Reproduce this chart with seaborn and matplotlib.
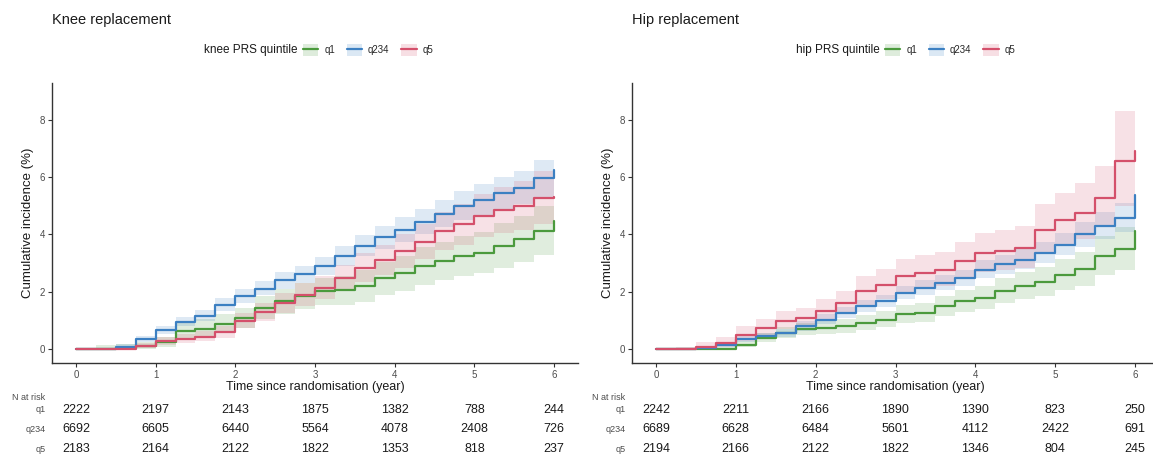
import matplotlib
matplotlib.use("Agg")
import matplotlib.pyplot as plt
import matplotlib.transforms as mtransforms
from matplotlib.lines import Line2D
from matplotlib.patches import Patch
import numpy as np
import pandas as pd
import seaborn as sns

years = [0, 0.25, 0.5, 0.75, 1, 1.25, 1.5, 1.75, 2, 2.25, 2.5, 2.75, 3,
         3.25, 3.5, 3.75, 4, 4.25, 4.5, 4.75, 5, 5.25, 5.5, 5.75, 6]

groups = ['q1', 'q234', 'q5']
colors = {'q1': '#4b9a3d', 'q234': '#3c80c2', 'q5': '#d4506b'}

# knee replacement: cumulative incidence (%) with 95% CI
knee_q1 = [0, 0, 0.05, 0.12, 0.25, 0.65, 0.72, 0.9, 1.1, 1.45, 1.68, 1.85, 2.03,
           2.06, 2.2, 2.5, 2.67, 2.9, 3.07, 3.25, 3.36, 3.6, 3.83, 4.12, 4.46]
knee_q1_lo = [0, 0, 0, 0.03, 0.1, 0.4, 0.45, 0.6, 0.75, 1.05, 1.25, 1.4, 1.55,
              1.55, 1.65, 1.9, 2.05, 2.25, 2.4, 2.55, 2.65, 2.85, 3.05, 3.3, 3.35]
knee_q1_hi = [0, 0.15, 0.2, 0.25, 0.45, 0.95, 1.05, 1.25, 1.45, 1.85, 2.1, 2.3, 2.5,
              2.55, 2.75, 3.05, 3.25, 3.55, 3.75, 3.95, 4.1, 4.4, 4.65, 5.0, 5.8]
knee_q234 = [0, 0.02, 0.1, 0.35, 0.68, 0.95, 1.18, 1.55, 1.85, 2.12, 2.4, 2.62, 2.9,
             3.25, 3.6, 3.9, 4.17, 4.45, 4.72, 5.0, 5.2, 5.45, 5.62, 5.95, 6.26]
knee_q234_lo = [0, 0, 0.05, 0.25, 0.55, 0.8, 1.0, 1.35, 1.62, 1.88, 2.12, 2.33, 2.6,
                2.92, 3.25, 3.5, 3.75, 4.0, 4.25, 4.5, 4.68, 4.9, 5.05, 5.3, 5.55]
knee_q234_hi = [0, 0.05, 0.18, 0.48, 0.82, 1.12, 1.38, 1.78, 2.1, 2.38, 2.7, 2.92, 3.22,
                3.6, 3.98, 4.3, 4.6, 4.9, 5.2, 5.5, 5.75, 6.0, 6.2, 6.6, 7.05]
knee_q5 = [0, 0, 0.02, 0.12, 0.28, 0.38, 0.45, 0.6, 1.0, 1.3, 1.62, 1.9, 2.14,
           2.5, 2.84, 3.1, 3.42, 3.75, 4.12, 4.35, 4.64, 4.85, 4.99, 5.28, 5.3]
knee_q5_lo = [0, 0, 0, 0.05, 0.15, 0.22, 0.28, 0.4, 0.75, 1.0, 1.28, 1.52, 1.75,
              2.05, 2.35, 2.6, 2.85, 3.15, 3.45, 3.65, 3.9, 4.05, 4.15, 4.35, 4.35]
knee_q5_hi = [0, 0, 0.08, 0.22, 0.42, 0.55, 0.65, 0.82, 1.28, 1.62, 1.98, 2.3, 2.55,
              2.95, 3.35, 3.65, 4.0, 4.38, 4.8, 5.05, 5.4, 5.65, 5.85, 6.2, 6.7]

# hip replacement
hip_q1 = [0, 0, 0, 0.02, 0.17, 0.4, 0.58, 0.7, 0.75, 0.81, 0.93, 1.04, 1.22,
          1.28, 1.51, 1.68, 1.8, 2.03, 2.2, 2.35, 2.6, 2.8, 3.25, 3.48, 4.12]
hip_q1_lo = [0, 0, 0, 0, 0.08, 0.25, 0.4, 0.5, 0.53, 0.58, 0.68, 0.77, 0.92,
             0.97, 1.17, 1.3, 1.4, 1.6, 1.74, 1.86, 2.06, 2.22, 2.58, 2.75, 2.75]
hip_q1_hi = [0, 0.05, 0.08, 0.1, 0.3, 0.58, 0.78, 0.92, 0.98, 1.06, 1.2, 1.33, 1.54,
             1.6, 1.87, 2.07, 2.22, 2.48, 2.68, 2.86, 3.15, 3.4, 3.95, 4.25, 5.0]
hip_q234 = [0, 0.02, 0.05, 0.17, 0.35, 0.46, 0.58, 0.81, 1.04, 1.28, 1.51, 1.68, 1.97,
            2.14, 2.32, 2.49, 2.78, 2.96, 3.13, 3.36, 3.65, 4.0, 4.29, 4.58, 5.39]
hip_q234_lo = [0, 0, 0.02, 0.1, 0.25, 0.35, 0.45, 0.65, 0.88, 1.1, 1.32, 1.48, 1.75,
               1.9, 2.06, 2.22, 2.48, 2.64, 2.8, 3.0, 3.27, 3.58, 3.83, 4.08, 4.7]
hip_q234_hi = [0, 0.05, 0.1, 0.26, 0.46, 0.58, 0.72, 0.98, 1.22, 1.47, 1.72, 1.9, 2.2,
               2.4, 2.58, 2.78, 3.1, 3.3, 3.48, 3.74, 4.05, 4.44, 4.77, 5.1, 6.1]
hip_q5 = [0, 0.02, 0.1, 0.23, 0.52, 0.75, 0.99, 1.1, 1.33, 1.62, 2.03, 2.26, 2.55,
          2.67, 2.78, 3.07, 3.36, 3.42, 3.54, 4.17, 4.52, 4.75, 5.28, 6.55, 6.9]
hip_q5_lo = [0, 0, 0.02, 0.1, 0.3, 0.5, 0.7, 0.8, 0.98, 1.22, 1.55, 1.75, 2.0,
             2.1, 2.2, 2.45, 2.7, 2.75, 2.85, 3.35, 3.65, 3.85, 4.25, 5.0, 5.2]
hip_q5_hi = [0, 0.1, 0.25, 0.45, 0.8, 1.05, 1.35, 1.45, 1.75, 2.05, 2.55, 2.8, 3.15,
             3.3, 3.4, 3.75, 4.05, 4.15, 4.3, 5.05, 5.45, 5.8, 6.4, 8.3, 8.8]

# numbers at risk
risk_years = [0, 1, 2, 3, 4, 5, 6]
knee_risk_q1 = [2222, 2197, 2143, 1875, 1382, 788, 244]
knee_risk_q234 = [6692, 6605, 6440, 5564, 4078, 2408, 726]
knee_risk_q5 = [2183, 2164, 2122, 1822, 1353, 818, 237]
hip_risk_q1 = [2242, 2211, 2166, 1890, 1390, 823, 250]
hip_risk_q234 = [6689, 6628, 6484, 5601, 4112, 2422, 691]
hip_risk_q5 = [2194, 2166, 2122, 1822, 1346, 804, 245]


def make_frame(est, lo, hi):
    rows = []
    for g in groups:
        for t, e, l, h in zip(years, est[g], lo[g], hi[g]):
            rows.append({'time': t, 'group': g, 'inc': e, 'lo': l, 'hi': h})
    return pd.DataFrame(rows)


knee_df = make_frame({'q1': knee_q1, 'q234': knee_q234, 'q5': knee_q5},
                     {'q1': knee_q1_lo, 'q234': knee_q234_lo, 'q5': knee_q5_lo},
                     {'q1': knee_q1_hi, 'q234': knee_q234_hi, 'q5': knee_q5_hi})
hip_df = make_frame({'q1': hip_q1, 'q234': hip_q234, 'q5': hip_q5},
                    {'q1': hip_q1_lo, 'q234': hip_q234_lo, 'q5': hip_q5_lo},
                    {'q1': hip_q1_hi, 'q234': hip_q234_hi, 'q5': hip_q5_hi})

sns.set_theme(style='white')
plt.rcParams['font.family'] = ['Liberation Sans', 'DejaVu Sans']

W, H = 1153, 468
fig = plt.figure(figsize=(W / 100, H / 100), dpi=100)


def px_axes(left, right, top, bottom):
    return fig.add_axes([left / W, 1 - bottom / H, (right - left) / W, (bottom - top) / H])


def draw_panel(ax, df, title, legend_title, risks, lx):
    for g in groups:
        sub = df[df.group == g]
        ax.fill_between(sub.time, sub.lo, sub.hi, step='post',
                        color=colors[g], alpha=0.17, linewidth=0)
    sns.lineplot(data=df, x='time', y='inc', hue='group', palette=colors,
                 drawstyle='steps-post', estimator=None, linewidth=1.6,
                 legend=False, ax=ax)
    ax.set_xlim(-0.3, 6.3)
    ax.set_ylim(-0.47, 9.27)
    ax.set_xticks(range(7))
    ax.set_yticks([0, 2, 4, 6, 8])
    for s in ['top', 'right']:
        ax.spines[s].set_visible(False)
    for s in ['left', 'bottom']:
        ax.spines[s].set_color('#333333')
        ax.spines[s].set_linewidth(1.0)
    ax.tick_params(axis='both', which='both', length=3, width=0.8,
                   color='#333333', labelsize=7, labelcolor='#4d4d4d',
                   bottom=True, left=True, pad=2)
    ax.set_xlabel('Time since randomisation (year)', fontsize=9, labelpad=1,
                  color='#1a1a1a')
    ax.set_ylabel('Cumulative incidence (%)', fontsize=9.5, color='#1a1a1a')
    ax.text(0, 1.0 + 63 / 280, title, transform=ax.transAxes,
            fontsize=10.5, ha='left', va='center', color='#1a1a1a')

    # legend: title on the left, then keys
    fig.text(lx / W, 1 - 50 / H, legend_title, fontsize=8.5,
             ha='right', va='center', color='#1a1a1a')
    handles = [(Patch(facecolor=colors[g], alpha=0.18, edgecolor='none'),
                Line2D([], [], color=colors[g], linewidth=1.6)) for g in groups]
    fig.legend(handles, groups, loc='center left',
               bbox_to_anchor=(lx / W, 1 - 50 / H), ncol=3, frameon=False,
               fontsize=7, handlelength=1.6, handleheight=1.5,
               handletextpad=0.6, columnspacing=1.2, borderpad=0)

    # number-at-risk table
    trans = mtransforms.blended_transform_factory(ax.transData, fig.transFigure)
    ax.text(-0.38, 1 - 397 / H, 'N at risk', transform=trans, ha='right',
            va='center', fontsize=6.5, color='#4d4d4d')
    row_y = [410, 429, 449]
    for g, vals, yy in zip(groups, risks, row_y):
        ax.text(-0.38, 1 - yy / H, g, transform=trans, ha='right', va='center',
                fontsize=6.5, color='#4d4d4d')
        for t, v in zip(risk_years, vals):
            ax.text(t, 1 - yy / H, str(v), transform=trans, ha='center',
                    va='center', fontsize=9, color='#1a1a1a')


ax1 = px_axes(52, 578, 83, 363)
ax2 = px_axes(632, 1159, 83, 363)

draw_panel(ax1, knee_df, 'Knee replacement', 'knee PRS quintile',
           [knee_risk_q1, knee_risk_q234, knee_risk_q5], 298)
draw_panel(ax2, hip_df, 'Hip replacement', 'hip PRS quintile',
           [hip_risk_q1, hip_risk_q234, hip_risk_q5], 880)

fig.savefig('out.png', dpi=100)
